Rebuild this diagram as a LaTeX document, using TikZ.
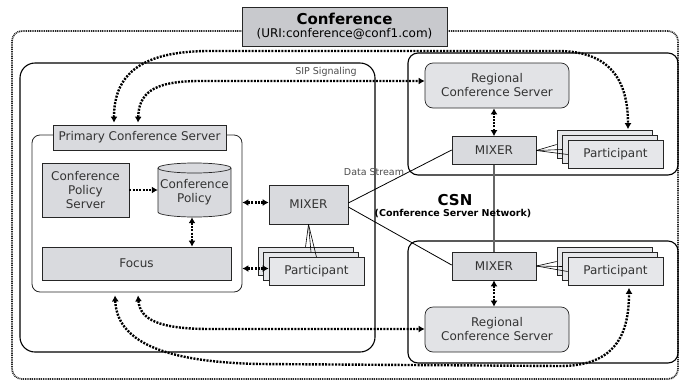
\documentclass[tikz,border=0pt]{standalone}
\usepackage{fontspec}
\setmainfont{DejaVu Sans}
\usetikzlibrary{arrows.meta}
\definecolor{gA}{HTML}{D9DADE}
\definecolor{gB}{HTML}{E6E7EA}
\definecolor{gR}{HTML}{E2E3E6}
\definecolor{gT}{HTML}{C8C9CD}
\definecolor{txt}{HTML}{333333}
\newcommand\myStack[3]{%
 \node[pbox] (#1c) at ({#2-11},{#3-10}) {};
 \node[pbox] (#1b) at ({#2-5.5},{#3-5}) {};
 \node[pbox] (#1) at (#2,#3) {Participant};}
\begin{document}
\begin{tikzpicture}[x=1pt,y=-1pt,
  box/.style={draw=black!85, line width=0.7pt, fill=gA, text=txt, align=center, inner sep=0pt, font=\fontsize{12}{14}\selectfont},
  pbox/.style={box, fill=gB, minimum width=95pt, minimum height=28pt},
  rbox/.style={box, fill=gR, rounded corners=8pt, minimum width=144pt, minimum height=45pt},
  mbox/.style={box, minimum width=84pt, minimum height=28pt},
  region/.style={draw=black, line width=1.1pt, rounded corners=10pt, minimum width=270pt, minimum height=122pt, inner sep=0pt},
  sip/.style={line width=2.4pt, dash pattern=on 2pt off 1.3pt, >={Latex[length=6pt,width=7pt]}},
  data/.style={line width=0.8pt, draw=black},
  small/.style={font=\fontsize{9.5}{11}\selectfont, text=black!70, inner sep=0pt}
]
\useasboundingbox (0,0) rectangle (680,381);
% outer conference boundary
\node[draw=black!85, line width=1.7pt, dash pattern=on 1pt off 0.8pt, rounded corners=10pt,
      minimum width=666pt, minimum height=348pt, inner sep=0pt] (outer) at (345,205) {};
\node[box, fill=gT, minimum width=205pt, minimum height=39pt, text=black] (title) at (344.5,26.5)
  {{\fontsize{15}{17}\selectfont\bfseries Conference}\\[-1pt]{\fontsize{12}{14}\selectfont (URI:conference@conf1.com)}};
% primary domain
\node[draw=black, line width=1.1pt, rounded corners=15pt, minimum width=355pt, minimum height=289pt, inner sep=0pt] (dom) at (197.5,207.5) {};
% regions
\node[region] (regT) at (543,114) {};
\node[region] (regB) at (543,302) {};
% primary conference server container
\node[draw=black!85, line width=0.8pt, fill=white, rounded corners=8pt, minimum width=210pt, minimum height=157pt, inner sep=0pt] (pcsC) at (137,213.5) {};
\node[box, minimum width=173pt, minimum height=25pt] (pcsL) at (139.5,137.5) {Primary Conference Server};
\node[box, minimum width=87pt, minimum height=54pt] (cps) at (85.5,190) {Conference\\Policy\\Server};
% cylinder
\fill[gA] (158,168) rectangle (231,212);
\fill[gA] (194.5,212) ellipse [x radius=36.5pt, y radius=5pt];
\draw[black!85, line width=0.7pt] (158,168) -- (158,212) arc[start angle=180, end angle=360, x radius=36.5pt, y radius=5pt] -- (231,168);
\draw[black!85, line width=0.7pt, fill=gA] (194.5,168) ellipse [x radius=36.5pt, y radius=5pt];
\node[align=center, inner sep=0pt, text=txt, font=\fontsize{12}{14}\selectfont, minimum width=73pt, minimum height=50pt] (cyl) at (194.5,192) {Conference\\Policy};
\node[box, minimum width=189pt, minimum height=33pt] (focus) at (136.5,263.5) {Focus};
% data stream lines
\node[mbox, minimum width=79pt, minimum height=39pt] (mixP) at (308.5,204.5) {MIXER};
\node[mbox] (mixT) at (494,150.5) {MIXER};
\node[mbox] (mixB) at (494,266) {MIXER};
\draw[data] ([yshift=1.5pt]mixP.east) -- ([yshift=0.5pt]mixT.west);
\draw[data] ([yshift=-2.5pt]mixP.east) -- ([yshift=1pt]mixB.west);
\draw[line width=1.2pt, draw=black!60] (mixT.south) -- (mixB.north);
% participants
\myStack{pP}{316.5}{271.5}
\myStack{pT}{615.5}{154.5}
\myStack{pB}{615.5}{271.5}
\draw[data, line width=0.6pt] (mixP.south) -- (pPc.north);
\draw[data, line width=0.6pt] (mixP.south) -- (pPb.north);
\draw[data, line width=0.6pt] (mixP.south) -- (pP.north);
\draw[data, line width=0.6pt] (mixT.east) -- (pTc.west);
\draw[data, line width=0.6pt] (mixT.east) -- (pTb.west);
\draw[data, line width=0.6pt] (mixT.east) -- (pT.west);
\draw[data, line width=0.6pt] (mixB.east) -- (pBc.west);
\draw[data, line width=0.6pt] (mixB.east) -- (pBb.west);
\draw[data, line width=0.6pt] (mixB.east) -- (pB.west);
% regional servers
\node[rbox] (rcsT) at (497,85.5) {Regional\\Conference Server};
\node[rbox] (rcsB) at (497,329.5) {Regional\\Conference Server};
% short signalling arrows
\draw[sip,->] (cps.east) -- (cps.east -| cyl.west);
\draw[sip,<->] ([xshift=-2.5pt]cyl.south) -- ([xshift=-2.5pt]cyl.south |- focus.north);
\draw[sip,<->] ([yshift=2pt]mixP.west) -- ([yshift=2pt]mixP.west -| pcsC.east);
\draw[sip,<->] ([yshift=3pt]pP.west) -- ([yshift=3pt]pP.west -| pcsC.east);
\draw[sip,<->] (mixT.north) -- (mixT.north |- rcsT.south);
\draw[sip,<->] (mixB.south) -- (mixB.south |- rcsB.north);
% SIP signalling paths
\draw[sip,<->] ([xshift=-25.5pt,yshift=2pt]pcsL.north) .. controls (114,75) and (140,51) .. (210,51) -- (560,51) .. controls (610,52) and (628,80) .. ([xshift=23.5pt,yshift=1pt]pTc.north);
\draw[sip,<->] ([xshift=-1.5pt,yshift=2pt]pcsL.north) .. controls (139,95) and (150,81) .. (200,81) -- ([yshift=4.5pt]rcsT.west);
\draw[sip,<->] ([xshift=-22pt,yshift=-3pt]pcsC.south) .. controls (117,340) and (160,362) .. (260,364) -- (560,366) .. controls (615,366) and (629,335) .. ([xshift=13.5pt,yshift=-2pt]pB.south);
\draw[sip,<->] ([xshift=1pt,yshift=-3pt]pcsC.south) .. controls (140,320) and (160,329) .. (210,329) -- ([yshift=0.5pt]rcsB.west);
% labels
\node[small] (sipl) at (326,72) {SIP Signaling};
\node[small] (dsl) at (374,172) {Data Stream};
\node[font=\fontsize{15}{17}\selectfont\bfseries, inner sep=0pt] (csn) at (455,200) {CSN};
\node[font=\fontsize{9.5}{11}\selectfont\bfseries, inner sep=0pt] (csnl) at (453,214) {(Conference Server Network)};
\end{tikzpicture}
\end{document}
